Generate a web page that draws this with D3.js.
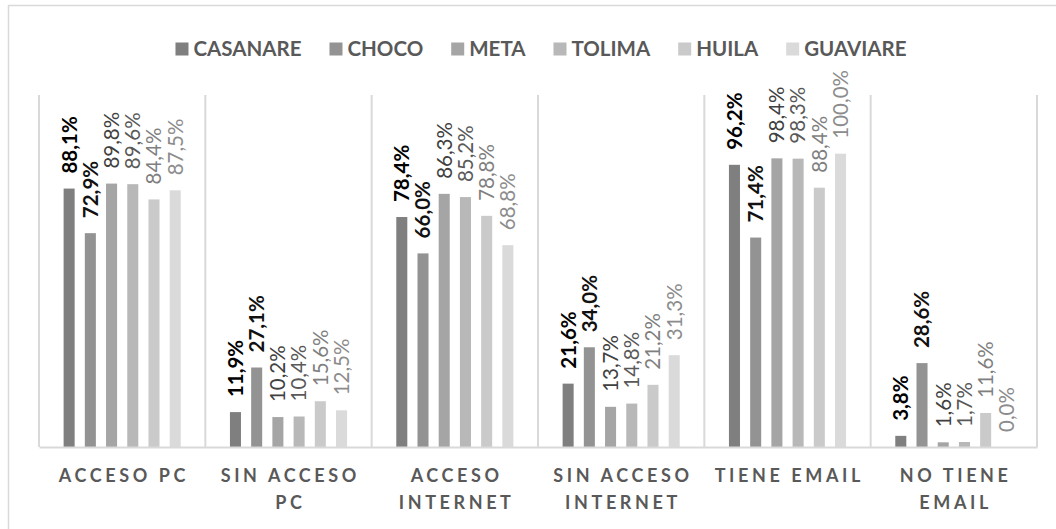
<!DOCTYPE html>
<html>
<head>
<meta charset="utf-8">
<script src="https://cdn.jsdelivr.net/npm/d3@7/dist/d3.min.js"></script>
<style>
  html, body { margin: 0; padding: 0; background: #fff; }
  svg { display: block; }
  text { font-family: Lato, "Open Sans", sans-serif; }
</style>
</head>
<body>
<svg id="chart" width="1056" height="529"></svg>
<script>
// ---- data ----
const categories = ["ACCESO PC", "SIN ACCESO PC", "ACCESO INTERNET", "SIN ACCESO INTERNET", "TIENE EMAIL", "NO TIENE EMAIL"];
const seriesNames = ["CASANARE", "CHOCO", "META", "TOLIMA", "HUILA", "GUAVIARE"];
const casanare = [88.1, 11.9, 78.4, 21.6, 96.2, 3.8];
const choco    = [72.9, 27.1, 66.0, 34.0, 71.4, 28.6];
const meta     = [89.8, 10.2, 86.3, 13.7, 98.4, 1.6];
const tolima   = [89.6, 10.4, 85.2, 14.8, 98.3, 1.7];
const huila    = [84.4, 15.6, 78.8, 21.2, 88.4, 11.6];
const guaviare = [87.5, 12.5, 68.8, 31.3, 100.0, 0.0];
const seriesValues = [casanare, choco, meta, tolima, huila, guaviare];

// ---- styles ----
const barColors   = ["#7f7f7f", "#939393", "#a5a5a5", "#b8b8b8", "#cacaca", "#dadada"];
const labelColors = ["#000000", "#111111", "#404040", "#595959", "#7f7f7f", "#8c8c8c"];
const labelWeights = [700, 700, 400, 400, 400, 400];

const svg = d3.select("#chart");
const W = 1056, H = 529;
const plot = { left: 39, right: 1037, top: 95, bottom: 447 };

// outer chart border (extends beyond the frame at right/bottom)
svg.append("rect")
  .attr("x", 8.5).attr("y", 5.5)
  .attr("width", W + 20).attr("height", H + 20)
  .attr("fill", "#fff").attr("stroke", "#d9d9d9").attr("stroke-width", 1.5);

const x0 = d3.scaleBand().domain(categories).range([plot.left, plot.right]).padding(0);
const x1 = d3.scaleBand().domain(seriesNames).range([0, x0.bandwidth()])
  .paddingInner(0.48).paddingOuter(1.16);
const y = d3.scaleLinear().domain([0, 120]).range([plot.bottom, plot.top]);

// vertical separators
const bounds = categories.map(c => x0(c)).concat([plot.right]);
svg.append("g").selectAll("line").data(bounds).join("line")
  .attr("x1", d => d).attr("x2", d => d)
  .attr("y1", plot.top).attr("y2", plot.bottom)
  .attr("stroke", "#d9d9d9").attr("stroke-width", 2);

// bars
const rows = categories.map((c, i) => ({ cat: c, vals: seriesNames.map((s, j) => ({ s, j, v: seriesValues[j][i] })) }));
const groups = svg.append("g").selectAll("g").data(rows).join("g")
  .attr("transform", d => `translate(${x0(d.cat)},0)`);

groups.selectAll("rect").data(d => d.vals).join("rect")
  .attr("x", d => x1(d.s))
  .attr("width", x1.bandwidth())
  .attr("y", d => y(d.v))
  .attr("height", d => y(0) - y(d.v))
  .attr("fill", d => barColors[d.j]);

const fmt = v => v.toFixed(1).replace(".", ",") + "%";
groups.selectAll("text.lbl").data(d => d.vals).join("text")
  .attr("class", "lbl")
  .attr("transform", d => `translate(${x1(d.s) + x1.bandwidth() / 2},${y(d.v) - 15}) rotate(-90)`)
  .attr("text-anchor", "start")
  .attr("dy", "0.36em")
  .attr("font-size", 20.5)
  .attr("font-weight", d => labelWeights[d.j])
  .attr("fill", d => labelColors[d.j])
  .text(d => fmt(d.v));

// x axis
const xAxis = d3.axisBottom(x0).tickSize(0).tickPadding(0);
const gx = svg.append("g").attr("transform", `translate(0,${plot.bottom})`).call(xAxis);
gx.select(".domain").attr("stroke", "#d9d9d9").attr("stroke-width", 2);
gx.selectAll(".tick text").remove();
gx.selectAll(".tick").each(function (d) {
  const t = d3.select(this).append("text")
    .attr("fill", "#595959")
    .attr("font-size", 18)
    .attr("font-weight", 700)
    .attr("letter-spacing", "3.6px")
    .attr("text-anchor", "middle");
  const words = d.split(" ");
  const maxW = x0.bandwidth() - 8;
  const lines = [];
  let cur = [];
  const probe = t.append("tspan");
  words.forEach(w => {
    const trial = cur.concat([w]).join(" ");
    probe.text(trial);
    if (probe.node().getComputedTextLength() > maxW && cur.length) {
      lines.push(cur.join(" "));
      cur = [w];
    } else cur.push(w);
  });
  lines.push(cur.join(" "));
  probe.remove();
  lines.forEach((ln, i) => {
    t.append("tspan").attr("x", 1.8).attr("y", 35 + i * 27).text(ln);
  });
});

// legend
const legend = svg.append("g");
let lx = 0;
seriesNames.forEach((s, j) => {
  const g = legend.append("g").attr("transform", `translate(${lx},0)`);
  g.append("rect").attr("x", 0).attr("y", -6.5).attr("width", 13).attr("height", 13).attr("fill", barColors[j]);
  const t = g.append("text").attr("x", 18).attr("y", 0).attr("dy", "0.36em")
    .attr("font-size", 20.5).attr("font-weight", 700).attr("fill", "#595959").text(s);
  lx += 18 + t.node().getComputedTextLength() + 28;
});
const legW = lx - 28;
legend.attr("transform", `translate(${541 - legW / 2},49)`);
</script>
</body>
</html>
